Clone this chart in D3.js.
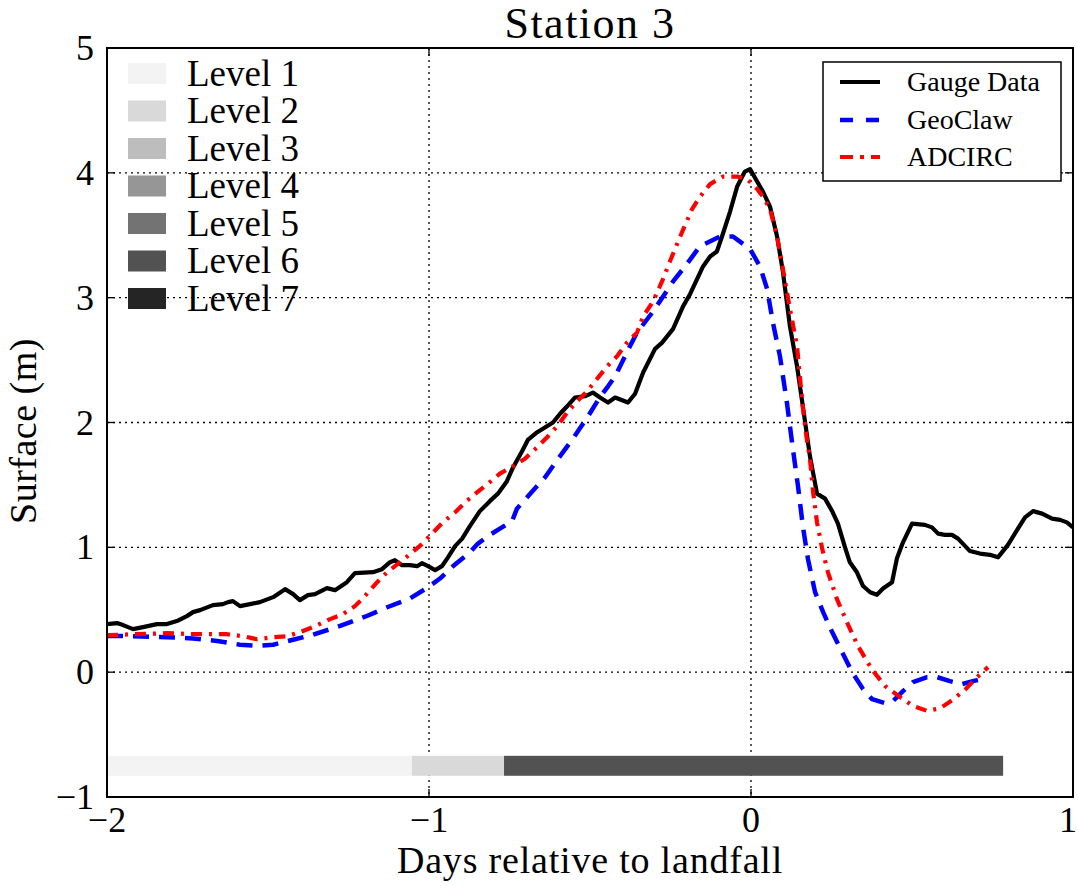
<!DOCTYPE html>
<html>
<head>
<meta charset="utf-8">
<script src="https://cdn.jsdelivr.net/npm/d3@7"></script>
<style>
  html, body { margin: 0; padding: 0; background: #fff; }
  svg { display: block; }
  text { font-family: "Liberation Serif", "Times New Roman", serif; fill: #000; }
</style>
</head>
<body>
<svg id="chart" width="1078" height="886"></svg>
<script>
// ---------- DATA ----------
const chartTitle = "Station 3";
const xLabel = "Days relative to landfall";
const yLabel = "Surface (m)";
const xTicks = [-2, -1, 0, 1];
const yTicks = [-1, 0, 1, 2, 3, 4, 5];

const gaugeDays = [-2.000,-1.969,-1.950,-1.919,-1.888,-1.845,-1.814,-1.783,-1.752,-1.733,-1.711,-1.671,-1.640,-1.624,-1.609,-1.587,-1.556,-1.525,-1.484,-1.447,-1.422,-1.401,-1.376,-1.354,-1.317,-1.292,-1.255,-1.230,-1.174,-1.146,-1.121,-1.106,-1.084,-1.059,-1.037,-1.022,-1.003,-0.981,-0.960,-0.941,-0.919,-0.897,-0.873,-0.842,-0.811,-0.786,-0.758,-0.739,-0.711,-0.693,-0.665,-0.640,-0.615,-0.593,-0.571,-0.547,-0.516,-0.491,-0.469,-0.444,-0.422,-0.382,-0.360,-0.335,-0.298,-0.276,-0.242,-0.211,-0.189,-0.149,-0.127,-0.106,-0.090,-0.065,-0.043,-0.019,-0.003,0.019,0.037,0.059,0.081,0.099,0.121,0.143,0.161,0.183,0.205,0.230,0.252,0.270,0.292,0.307,0.329,0.348,0.370,0.391,0.410,0.438,0.453,0.472,0.500,0.540,0.562,0.581,0.602,0.624,0.643,0.680,0.711,0.742,0.767,0.798,0.829,0.851,0.876,0.904,0.935,0.960,0.981,1.000];
const gaugeSurface = [0.385,0.393,0.377,0.345,0.361,0.385,0.385,0.409,0.449,0.481,0.497,0.537,0.545,0.561,0.569,0.529,0.545,0.561,0.601,0.665,0.625,0.577,0.617,0.625,0.673,0.657,0.721,0.793,0.801,0.825,0.881,0.897,0.857,0.857,0.849,0.873,0.849,0.817,0.849,0.92,1.01,1.07,1.17,1.29,1.37,1.43,1.53,1.64,1.77,1.86,1.92,1.96,2.00,2.07,2.13,2.20,2.21,2.24,2.20,2.16,2.20,2.16,2.23,2.40,2.59,2.64,2.75,2.93,3.03,3.25,3.33,3.37,3.49,3.69,3.89,4.01,4.03,3.93,3.85,3.73,3.49,3.21,2.77,2.45,2.13,1.73,1.43,1.39,1.29,1.19,1.00,0.88,0.80,0.69,0.64,0.62,0.67,0.72,0.91,1.04,1.19,1.18,1.16,1.11,1.10,1.10,1.07,0.97,0.95,0.94,0.92,1.02,1.15,1.24,1.29,1.27,1.23,1.22,1.20,1.16];

const geoclawDays = [-2.000,-1.960,-1.814,-1.733,-1.658,-1.587,-1.534,-1.484,-1.422,-1.360,-1.276,-1.193,-1.130,-1.059,-1.003,-0.966,-0.925,-0.873,-0.848,-0.811,-0.780,-0.742,-0.727,-0.696,-0.640,-0.599,-0.553,-0.506,-0.470,-0.444,-0.422,-0.376,-0.354,-0.304,-0.242,-0.205,-0.159,-0.096,-0.056,-0.003,0.028,0.050,0.068,0.090,0.112,0.130,0.146,0.161,0.177,0.199,0.224,0.252,0.283,0.314,0.348,0.376,0.416,0.441,0.472,0.503,0.547,0.578,0.618,0.655,0.689,0.717];
const geoclawSurface = [0.29,0.29,0.28,0.27,0.25,0.22,0.21,0.22,0.26,0.30,0.37,0.45,0.52,0.59,0.68,0.75,0.85,0.96,1.03,1.10,1.15,1.21,1.31,1.40,1.56,1.71,1.87,2.05,2.20,2.29,2.37,2.61,2.72,2.89,3.13,3.25,3.41,3.49,3.49,3.39,3.25,3.07,2.80,2.53,2.15,1.79,1.49,1.17,0.905,0.641,0.481,0.321,0.160,0.000,-0.136,-0.216,-0.248,-0.232,-0.152,-0.080,-0.040,-0.040,-0.072,-0.096,-0.072,-0.056];

const adcircDays = [-2.000,-1.919,-1.814,-1.720,-1.627,-1.578,-1.534,-1.484,-1.441,-1.401,-1.360,-1.307,-1.267,-1.230,-1.199,-1.161,-1.130,-1.090,-1.059,-1.022,-0.991,-0.957,-0.919,-0.888,-0.851,-0.817,-0.780,-0.739,-0.702,-0.665,-0.634,-0.602,-0.571,-0.540,-0.509,-0.478,-0.447,-0.416,-0.385,-0.354,-0.335,-0.304,-0.273,-0.252,-0.220,-0.183,-0.158,-0.127,-0.087,-0.043,-0.012,0.019,0.037,0.059,0.081,0.099,0.121,0.143,0.161,0.172,0.183,0.193,0.205,0.221,0.239,0.267,0.298,0.332,0.376,0.416,0.463,0.503,0.547,0.587,0.627,0.665,0.702,0.736];
const adcircSurface = [0.296,0.304,0.312,0.304,0.304,0.288,0.264,0.28,0.288,0.320,0.361,0.425,0.465,0.529,0.609,0.721,0.801,0.881,0.946,1.026,1.11,1.20,1.28,1.36,1.44,1.51,1.59,1.65,1.71,1.80,1.88,1.97,2.08,2.17,2.25,2.35,2.45,2.53,2.64,2.72,2.85,2.97,3.15,3.29,3.49,3.71,3.81,3.91,3.97,3.97,3.95,3.87,3.81,3.71,3.49,3.23,2.91,2.61,2.12,1.89,1.71,1.44,1.20,0.99,0.80,0.585,0.40,0.21,0.02,-0.11,-0.20,-0.27,-0.31,-0.29,-0.22,-0.14,-0.04,0.04];

const seriesNames = ["Gauge Data", "GeoClaw", "ADCIRC"];
const seriesColors = ["#000000", "#0000ff", "#ff0000"];

const levelNames = ["Level 1","Level 2","Level 3","Level 4","Level 5","Level 6","Level 7"];
const levelColors = ["#f3f3f3","#d9d9d9","#bdbdbd","#969696","#737373","#525252","#252525"];

// refinement level bar segments
const barStarts = [-2.0, -1.053, -0.767];
const barEnds   = [-1.053, -0.767, 0.783];
const barLevels = [1, 2, 6];
const barBottom = -0.83, barTop = -0.67;

// ---------- LAYOUT ----------
const svg = d3.select("#chart");
const L = 107, R = 1073, T = 48, B = 797;
const x = d3.scaleLinear().domain([-2, 1]).range([L, R]);
const y = d3.scaleLinear().domain([-1, 5]).range([B, T]);

svg.append("rect").attr("width", 1078).attr("height", 886).attr("fill", "#fff");

// grid
const grid = svg.append("g");
grid.selectAll(".gx").data(xTicks).enter().append("line")
  .attr("x1", d => x(d)).attr("x2", d => x(d)).attr("y1", T).attr("y2", B)
  .attr("stroke", "#000").attr("stroke-width", 1.3).attr("stroke-dasharray", "2,4");
grid.selectAll(".gy").data(yTicks).enter().append("line")
  .attr("y1", d => y(d)).attr("y2", d => y(d)).attr("x1", L).attr("x2", R)
  .attr("stroke", "#000").attr("stroke-width", 1.3).attr("stroke-dasharray", "2,4");

// level bar
const bars = barStarts.map((s, i) => ({ s, e: barEnds[i], lvl: barLevels[i] }));
svg.append("g").selectAll("rect").data(bars).enter().append("rect")
  .attr("x", d => x(d.s)).attr("width", d => x(d.e) - x(d.s))
  .attr("y", y(barTop)).attr("height", y(barBottom) - y(barTop))
  .attr("fill", d => levelColors[d.lvl - 1]);

// lines
const lineGen = d3.line().x(d => x(d[0])).y(d => y(d[1]));
const series = [
  { days: gaugeDays, vals: gaugeSurface, color: seriesColors[0], dash: null, legDash: null, w: 4.2 },
  { days: geoclawDays, vals: geoclawSurface, color: seriesColors[1], dash: "16,10", legDash: "13,13", w: 4.5 },
  { days: adcircDays, vals: adcircSurface, color: seriesColors[2], dash: "11,7,3,7", legDash: "13,7,4,7", w: 4.2 }
];
svg.append("defs").append("clipPath").attr("id", "clip")
  .append("rect").attr("x", L).attr("y", T).attr("width", R - L).attr("height", B - T);
const lg = svg.append("g").attr("clip-path", "url(#clip)");
series.forEach(s => {
  lg.append("path")
    .datum(s.days.map((d, i) => [d, s.vals[i]]))
    .attr("d", lineGen)
    .attr("fill", "none")
    .attr("stroke", s.color)
    .attr("stroke-width", s.w)
    .attr("stroke-linejoin", "round")
    .attr("stroke-dasharray", s.dash);
});

// frame
svg.append("rect").attr("x", L).attr("y", T).attr("width", R - L).attr("height", B - T)
  .attr("fill", "none").attr("stroke", "#000").attr("stroke-width", 2);

// inward ticks on all sides
const tk = svg.append("g").attr("stroke", "#000").attr("stroke-width", 1.3);
xTicks.forEach(t => {
  tk.append("line").attr("x1", x(t)).attr("x2", x(t)).attr("y1", B).attr("y2", B - 8);
  tk.append("line").attr("x1", x(t)).attr("x2", x(t)).attr("y1", T).attr("y2", T + 8);
});
yTicks.forEach(t => {
  tk.append("line").attr("y1", y(t)).attr("y2", y(t)).attr("x1", L).attr("x2", L + 8);
  tk.append("line").attr("y1", y(t)).attr("y2", y(t)).attr("x1", R).attr("x2", R - 8);
});

const fmt = v => (v < 0 ? "\u2212" + Math.abs(v) : String(v));
// tick labels
svg.append("g").selectAll("text").data(xTicks).enter().append("text")
  .attr("x", d => Math.min(x(d), 1068)).attr("y", 832).attr("text-anchor", "middle")
  .attr("font-size", 36).text(fmt);
svg.append("g").selectAll("text").data(yTicks).enter().append("text")
  .attr("x", 94).attr("y", d => y(d) + 12).attr("text-anchor", "end")
  .attr("font-size", 36).text(fmt);

// axis labels and title
svg.append("text").attr("x", (L + R) / 2).attr("y", 873).attr("text-anchor", "middle")
  .attr("font-size", 38).attr("letter-spacing", 0.8).text(xLabel);
svg.append("text").attr("transform", "translate(36,431) rotate(-90)").attr("text-anchor", "middle")
  .attr("font-size", 38).attr("letter-spacing", 0.5).text(yLabel);
svg.append("text").attr("x", (L + R) / 2).attr("y", 38).attr("text-anchor", "middle")
  .attr("font-size", 44).attr("letter-spacing", 1.5).text(chartTitle);

// left legend (levels)
const ll = svg.append("g");
levelNames.forEach((n, i) => {
  const cy = 73.5 + i * 37.5;
  ll.append("rect").attr("x", 128).attr("y", cy - 10.5).attr("width", 38).attr("height", 21)
    .attr("fill", levelColors[i]);
  ll.append("text").attr("x", 187).attr("y", cy + 12).attr("font-size", 37).text(n);
});

// right legend (series)
const rl = svg.append("g");
rl.append("rect").attr("x", 823).attr("y", 62).attr("width", 238).attr("height", 119)
  .attr("fill", "#fff").attr("stroke", "#000").attr("stroke-width", 1.5);
const rowY = [82, 120, 157];
series.forEach((s, i) => {
  rl.append("line").attr("x1", 840).attr("x2", 880).attr("y1", rowY[i]).attr("y2", rowY[i])
    .attr("stroke", s.color).attr("stroke-width", s.w).attr("stroke-dasharray", s.legDash);
  rl.append("text").attr("x", 907).attr("y", rowY[i] + 9).attr("font-size", 28).text(seriesNames[i]);
});
</script>
</body>
</html>
